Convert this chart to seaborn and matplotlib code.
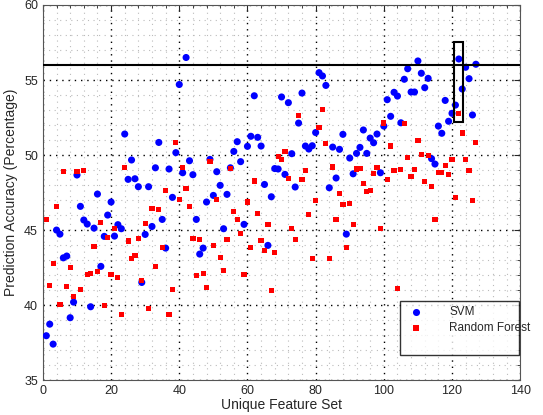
import matplotlib
matplotlib.use("Agg")
import matplotlib.pyplot as plt
from matplotlib.patches import Rectangle
from matplotlib.lines import Line2D
from matplotlib.ticker import MultipleLocator
import seaborn as sns
import pandas as pd

# feature set index 1..127
feature_set = list(range(1, 128))

svm_acc = [37.96, 38.73, 37.4, 45.0, 44.73, 43.15, 43.27, 39.16, 40.2, 48.67,
           46.58, 45.67, 45.4, 39.89, 45.13, 47.4, 42.58, 44.58, 46.0, 46.87,
           44.6, 45.36, 45.09, 51.4, 48.38, 49.67, 48.42, 47.89, 41.51, 44.71,
           47.89, 45.24, 49.15, 50.84, 45.71, 43.8, 49.07, 47.18, 50.16, 54.7,
           48.82, 56.5, 49.62, 48.69, 45.71, 43.4, 43.8, 46.87, 49.71, 47.31,
           48.89, 47.98, 45.09, 47.38, 49.15, 50.24, 50.89, 49.56, 45.38, 50.58,
           51.25, 53.95, 51.18, 50.6, 48.04, 43.98, 47.22, 49.1, 49.07, 53.87,
           48.71, 53.49, 50.09, 47.87, 52.13, 54.13, 50.6, 50.4, 50.62, 51.5,
           55.49, 55.27, 54.64, 47.82, 50.53, 48.47, 50.38, 51.38, 44.73, 49.8,
           48.75, 50.11, 50.51, 51.67, 50.11, 51.13, 50.82, 51.4, 48.82, 51.93,
           53.69, 52.58, 54.18, 53.93, 52.15, 55.05, 55.75, 54.2, 54.2, 56.27,
           55.45, 54.49, 55.11, 49.76, 49.4, 51.93, 51.45, 53.64, 52.25, 52.78,
           53.33, 56.4, 54.4, 55.85, 55.09, 52.67, 56.05]

rf_acc = [45.71, 41.31, 42.78, 46.58, 40.02, 48.91, 41.25, 42.51, 40.58, 48.91,
          41.05, 48.98, 42.04, 42.11, 43.91, 42.25, 45.53, 39.98, 44.51, 42.04,
          45.11, 41.84, 39.38, 49.18, 44.27, 43.13, 43.33, 44.44, 41.65, 45.45,
          39.78, 46.45, 42.58, 46.38, 43.85, 47.64, 39.38, 41.05, 50.84, 47.04,
          49.18, 47.78, 46.58, 44.44, 41.98, 44.38, 42.11, 41.18, 49.58, 43.98,
          47.04, 43.18, 42.31, 44.38, 49.13, 46.24, 45.71, 44.78, 42.04, 46.87,
          43.85, 48.27, 46.11, 44.33, 43.64, 45.38, 40.98, 43.51, 49.89, 49.71,
          50.24, 48.44, 45.11, 44.38, 52.65, 48.38, 48.98, 46.05, 43.11, 46.98,
          51.85, 53.05, 50.78, 43.11, 49.2, 45.71, 47.45, 46.71, 43.85, 46.78,
          45.38, 49.07, 49.09, 48.11, 47.58, 47.64, 48.78, 49.18, 45.11, 52.13,
          48.38, 50.6, 48.98, 41.11, 49.04, 52.1, 49.84, 48.58, 49.04, 50.98,
          50.04, 48.24, 49.98, 47.91, 45.71, 48.85, 48.85, 49.31, 48.71, 49.71,
          47.18, 52.78, 51.47, 49.71, 48.98, 46.98, 50.84]

threshold = 56
box_x = (120.6, 123.2)
box_y = (52.2, 57.5)

df = pd.DataFrame({
    "set": feature_set * 2,
    "acc": svm_acc + rf_acc,
    "model": ["SVM"] * len(svm_acc) + ["Random Forest"] * len(rf_acc),
})

sns.set_style("white")
plt.rcParams['font.family'] = ['Liberation Sans', 'DejaVu Sans']

fig = plt.figure(figsize=(5.43, 4.15), dpi=100)
ax = fig.add_axes([0.079, 0.084, 0.879, 0.904])

sns.scatterplot(data=df, x="set", y="acc", hue="model", style="model",
                palette={"SVM": "#0000ff", "Random Forest": "#ff0000"},
                markers={"SVM": "o", "Random Forest": "s"},
                size="model", sizes={"SVM": 26, "Random Forest": 14},
                linewidth=0, ax=ax, legend=False, zorder=3)

ax.axhline(threshold, color="black", linewidth=1.5, zorder=4)
ax.add_patch(Rectangle((box_x[0], box_y[0]), box_x[1] - box_x[0], box_y[1] - box_y[0],
                       fill=False, edgecolor="black", linewidth=1.5, zorder=4))

ax.set_xlim(0, 140)
ax.set_ylim(35, 60)
ax.xaxis.set_major_locator(MultipleLocator(20))
ax.yaxis.set_major_locator(MultipleLocator(5))
ax.xaxis.set_minor_locator(MultipleLocator(4))
ax.yaxis.set_minor_locator(MultipleLocator(1))
ax.grid(which="major", color="black", linestyle=(0, (1, 3.5)), linewidth=1.0)
ax.grid(which="minor", color="#bbbbbb", linestyle=(0, (1, 4)), linewidth=0.8)
ax.set_axisbelow(True)
ax.tick_params(which="both", direction="in", top=True, right=True, labelsize=9)
ax.tick_params(which="major", length=4)
ax.tick_params(which="minor", length=2)
for s in ax.spines.values():
    s.set_color("#555555")
    s.set_linewidth(0.8)

ax.set_xlabel("Unique Feature Set", fontsize=10, labelpad=1)
ax.set_ylabel("Prediction Accuracy (Percentage)", fontsize=10, labelpad=4)

# legend (blank third row gives the empty space at the bottom of the box)
h1 = ax.scatter([], [], s=26, color="#0000ff", marker="o", linewidths=0)
h2 = ax.scatter([], [], s=14, color="#ff0000", marker="s", linewidths=0)
blank = Line2D([], [], linestyle="none")
leg = ax.legend([h1, h2, blank], ["SVM", "Random Forest", ""], loc="upper left",
                bbox_to_anchor=(0.748, 0.08, 0.25, 0.13), mode="expand",
                fontsize=8.5, frameon=True, fancybox=False, borderpad=0.4,
                labelspacing=0.35, handletextpad=1.8, borderaxespad=0)
leg.get_frame().set_edgecolor("black")
leg.get_frame().set_linewidth(1.0)

plt.savefig("out.png", dpi=100)
